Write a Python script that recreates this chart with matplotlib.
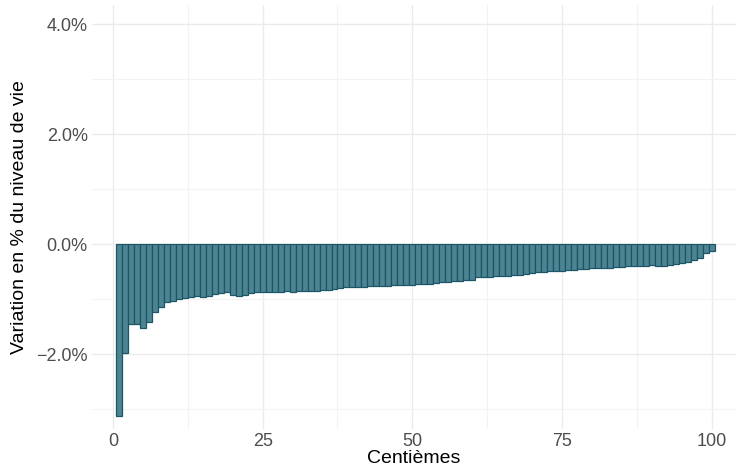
import matplotlib
matplotlib.use("Agg")
import matplotlib.pyplot as plt
from matplotlib.ticker import FixedLocator, FuncFormatter

plt.rcParams['font.family'] = ['Liberation Sans', 'DejaVu Sans']

centiles = list(range(1, 101))
variation = [
    -3.11, -1.97, -1.45, -1.44, -1.52, -1.41, -1.23, -1.13, -1.05, -1.02,
    -1.00, -0.98, -0.96, -0.94, -0.95, -0.93, -0.90, -0.88, -0.87, -0.91,
    -0.94, -0.91, -0.89, -0.87, -0.87, -0.87, -0.87, -0.86, -0.85, -0.86,
    -0.85, -0.85, -0.84, -0.84, -0.83, -0.82, -0.81, -0.79, -0.78, -0.78,
    -0.77, -0.77, -0.76, -0.76, -0.75, -0.75, -0.74, -0.73, -0.73, -0.74,
    -0.72, -0.72, -0.71, -0.70, -0.69, -0.68, -0.67, -0.66, -0.65, -0.64,
    -0.60, -0.60, -0.59, -0.58, -0.57, -0.57, -0.56, -0.55, -0.54, -0.51,
    -0.50, -0.50, -0.49, -0.48, -0.48, -0.47, -0.46, -0.45, -0.44, -0.43,
    -0.43, -0.42, -0.42, -0.41, -0.41, -0.40, -0.40, -0.39, -0.39, -0.38,
    -0.40, -0.39, -0.37, -0.35, -0.33, -0.31, -0.28, -0.25, -0.16, -0.11,
]
x_ticks = [0, 25, 50, 75, 100]
y_ticks = [-2.0, 0.0, 2.0, 4.0]

fig = plt.figure(figsize=(7.39, 4.66), dpi=100)
ax = fig.add_axes([0.1245, 0.080, 0.871, 0.910])

ax.bar(centiles, variation, width=1.0, color="#4E8491", edgecolor="#1B5568",
       linewidth=0.9, zorder=3)

ax.set_xlim(-3.5, 104)
ax.set_ylim(-3.35, 4.36)

ax.xaxis.set_major_locator(FixedLocator(x_ticks))
ax.xaxis.set_minor_locator(FixedLocator([12.5, 37.5, 62.5, 87.5]))
ax.yaxis.set_major_locator(FixedLocator(y_ticks))
ax.yaxis.set_minor_locator(FixedLocator([-3.0, -1.0, 1.0, 3.0]))
ax.yaxis.set_major_formatter(FuncFormatter(lambda v, p: ("\u2212" if v < 0 else "") + f"{abs(v):.1f}%"))

ax.grid(which='major', color="#EBEBEB", linewidth=1.0, zorder=0)
ax.grid(which='minor', color="#F3F3F3", linewidth=0.8, zorder=0)
for s in ax.spines.values():
    s.set_visible(False)
ax.tick_params(which='both', length=0)
ax.tick_params(axis='both', labelsize=13, labelcolor="#4D4D4D", pad=3)

ax.set_xlabel("Centièmes", fontsize=14, color="black", labelpad=0)
ax.set_ylabel("Variation en % du niveau de vie", fontsize=14, color="black", labelpad=6)

fig.savefig("out.png", dpi=100)
